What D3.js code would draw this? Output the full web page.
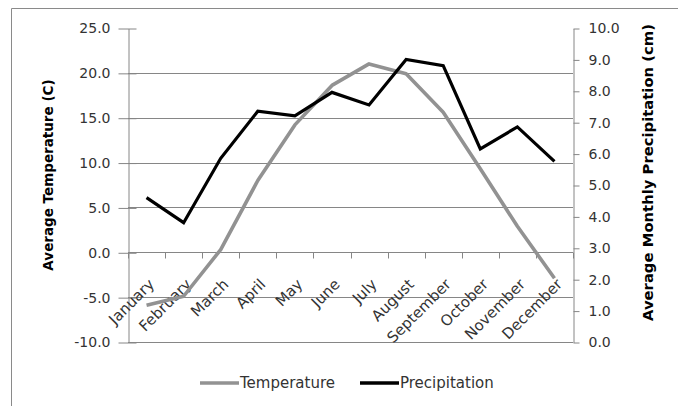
<!DOCTYPE html>
<html><head><meta charset="utf-8">
<script src="https://cdn.jsdelivr.net/npm/d3@7"></script>
<style>
body{margin:0;background:#fff}
text{font-family:"DejaVu Sans",sans-serif}
</style>
</head><body>
<svg id="c" width="678" height="406"></svg>
<script>
const months = ["January","February","March","April","May","June","July","August","September","October","November","December"];
const temperature = [-5.9, -4.9, 0.3, 8.0, 14.2, 18.6, 21.0, 19.9, 15.6, 9.3, 2.9, -2.9];
const precipitation = [4.6, 3.8, 5.85, 7.35, 7.2, 7.95, 7.55, 9.0, 8.8, 6.15, 6.85, 5.75];
const tempTicks = [-10, -5, 0, 5, 10, 15, 20, 25];
const precipTicks = [0, 1, 2, 3, 4, 5, 6, 7, 8, 9, 10];
const seriesNames = ["Temperature", "Precipitation"];
const leftTitle = "Average Temperature (C)";
const rightTitle = "Average Monthly Precipitation (cm)";

const svg = d3.select("#c");
const L = 128, R = 573, T = 28, B = 342;
const axisCol = "#868686";
const tempCol = "#929292";
const precCol = "#000000";
const fmt = d => d.toFixed(1);

svg.append("rect").attr("width", 678).attr("height", 406).attr("fill", "#fff");
// chart frame (left & top edges visible)
svg.append("path").attr("d", "M11.5,406V8.5H678").attr("fill", "none").attr("stroke", "#8a8a8a").attr("stroke-width", 1);

const x = d3.scaleBand().domain(months).range([L, R]);
const bw = x.bandwidth();
const yL = d3.scaleLinear().domain([-10, 25]).range([B, T]);
const yR = d3.scaleLinear().domain([0, 10]).range([B, T]);

// gridlines
svg.append("g").selectAll("line").data(tempTicks.filter(t => t < 25)).join("line")
  .attr("x1", L).attr("x2", R)
  .attr("y1", d => Math.round(yL(d)) + 0.5).attr("y2", d => Math.round(yL(d)) + 0.5)
  .attr("stroke", axisCol).attr("stroke-width", 1);

// left axis
const gl = svg.append("g").attr("transform", `translate(${L + 0.5},0.5)`)
  .call(d3.axisLeft(yL).tickValues(tempTicks).tickFormat(fmt).tickSize(10).tickPadding(8).tickSizeOuter(0));
gl.select(".domain").attr("stroke", axisCol);
gl.selectAll(".tick line").attr("stroke", axisCol).attr("x1", 8);
gl.selectAll(".tick text").attr("font-size", 14).attr("fill", "#333").attr("font-family", "DejaVu Sans");

// right axis
const gr = svg.append("g").attr("transform", `translate(${R + 0.5},0.5)`)
  .call(d3.axisRight(yR).tickValues(precipTicks).tickFormat(fmt).tickSize(6).tickPadding(9).tickSizeOuter(0));
gr.select(".domain").attr("stroke", axisCol);
gr.selectAll(".tick line").attr("stroke", axisCol);
gr.selectAll(".tick text").attr("font-size", 14).attr("fill", "#333").attr("font-family", "DejaVu Sans");

// category axis at 0
const y0 = Math.round(yL(0)) + 0.5;
svg.append("g").selectAll("line").data(months.concat([null])).join("line")
  .attr("x1", d => d === null ? R + 0.5 : Math.round(x(d)) + 0.5)
  .attr("x2", d => d === null ? R + 0.5 : Math.round(x(d)) + 0.5)
  .attr("y1", y0).attr("y2", y0 + 6)
  .attr("stroke", axisCol);
svg.append("g").selectAll("text").data(months).join("text")
  .attr("transform", d => `translate(${x(d) + bw / 2 + 5},${y0 + 29}) rotate(-45)`)
  .attr("text-anchor", "end").attr("dy", "0.35em")
  .attr("font-size", 15).attr("fill", "#333")
  .text(d => d);

// lines
const tData = months.map((m, i) => ({m, v: temperature[i]}));
const pData = months.map((m, i) => ({m, v: precipitation[i]}));
svg.append("path").datum(tData)
  .attr("d", d3.line().x(d => x(d.m) + bw / 2).y(d => yL(d.v)))
  .attr("fill", "none").attr("stroke", tempCol).attr("stroke-width", 3.6).attr("stroke-linejoin", "round");
svg.append("path").datum(pData)
  .attr("d", d3.line().x(d => x(d.m) + bw / 2).y(d => yR(d.v)))
  .attr("fill", "none").attr("stroke", precCol).attr("stroke-width", 3.2).attr("stroke-linejoin", "miter");

// axis titles
svg.append("text").attr("transform", `translate(48,175) rotate(-90)`)
  .attr("text-anchor", "middle").attr("dy", "0.35em")
  .attr("font-size", 13.5).attr("font-weight", "bold").attr("fill", "#000").text(leftTitle);
svg.append("text").attr("transform", `translate(648,172.5) rotate(-90)`)
  .attr("text-anchor", "middle").attr("dy", "0.35em")
  .attr("font-size", 14.8).attr("font-weight", "bold").attr("fill", "#000").text(rightTitle);

// legend
const leg = [{name: seriesNames[0], col: tempCol, x: 200}, {name: seriesNames[1], col: precCol, x: 360}];
const lg = svg.append("g").selectAll("g").data(leg).join("g").attr("transform", d => `translate(${d.x},383)`);
lg.append("line").attr("x1", 0).attr("x2", 39).attr("stroke", d => d.col).attr("stroke-width", 3.6);
lg.append("text").attr("x", 40).attr("dy", "0.35em").attr("font-size", 15).attr("fill", "#333").text(d => d.name);
</script>
</body></html>
